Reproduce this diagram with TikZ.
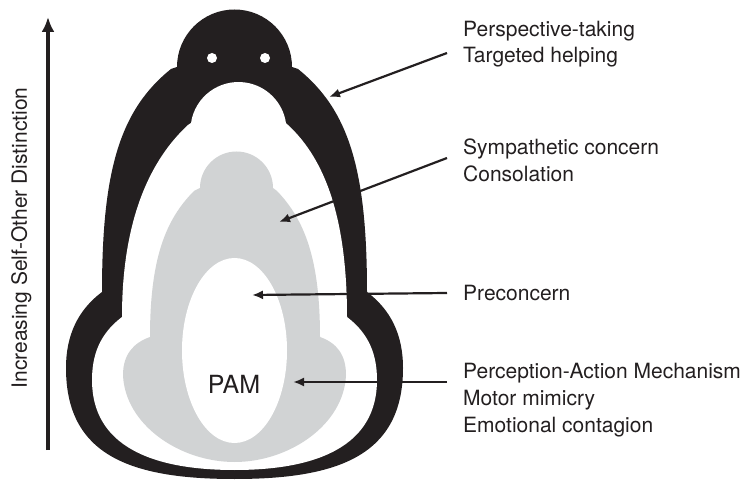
\documentclass[tikz,border=0pt]{standalone}
\usepackage{fontspec}
\setmainfont{TeX Gyre Heros}
\usetikzlibrary{arrows.meta}
\definecolor{inkblack}{HTML}{231F20}
\definecolor{pamgray}{HTML}{D1D3D4}
\tikzset{font=\fontsize{21}{27}\selectfont}

\begin{document}
\begin{tikzpicture}[x=1pt,y=-1pt,
    txt/.style={anchor=base west,inner xsep=16pt,inner ysep=0pt,text=inkblack},
    pointer/.style={draw=inkblack,line width=2.2pt,-{Latex[length=11pt,width=9pt]}}]
  \useasboundingbox (0,0) rectangle (745,481);

  % outer (black) layer with head
  \fill[inkblack] (177,67) arc (180:360:57.5) -- (298,69)
    .. controls (349,110) and (367,170) .. (367,292)
    .. controls (391,310) and (403,335) .. (403,368)
    .. controls (403,455) and (339,479) .. (234.5,479)
    .. controls (130,479) and (66,455) .. (66,368)
    .. controls (66,335) and (78,310) .. (102,292)
    .. controls (102,170) and (120,110) .. (171,69) -- cycle;
  \fill[white] (191,123) arc (188.4:351.6:48) -- (288,125)
    .. controls (326,160) and (347,220) .. (347,317)
    .. controls (364,330) and (377,348) .. (377,380)
    .. controls (377,445) and (319,470) .. (234.5,470)
    .. controls (150,470) and (92,445) .. (92,380)
    .. controls (92,348) and (105,330) .. (122,317)
    .. controls (122,220) and (150,160) .. (188,125) -- cycle;
  \fill[white] (212,58) circle (5pt) (265,58) circle (5pt);

  % middle (gray) layer
  \fill[pamgray] (200,188) arc (180:360:36.5) -- (277,191)
    .. controls (305,220) and (320,260) .. (320,337)
    .. controls (337,343) and (346,355) .. (346,375)
    .. controls (344,425) and (289,462) .. (234.5,462)
    .. controls (180,462) and (125,425) .. (123,375)
    .. controls (123,355) and (133,343) .. (150,337)
    .. controls (150,260) and (165,220) .. (194,191) -- cycle;

  % core
  \fill[white] (234.5,350.5) ellipse [x radius=52.5pt,y radius=92.5pt];
  \node[font=\fontsize{25}{30}\selectfont,anchor=base,text=inkblack] (pam) at (234,393) {PAM};

  \node[txt] (persp) at (447,37) {Perspective-taking};
  \node[txt] (targ) at (447,63) {Targeted helping};
  \node[txt] (symp) at (447,155) {Sympathetic concern};
  \node[txt] (consol) at (447,182) {Consolation};
  \node[txt] (precon) at (447,301) {Preconcern};
  \node[txt] (mech) at (447,378) {Perception-Action Mechanism};
  \node[txt] (motor) at (447,405) {Motor mimicry};
  \node[txt] (emo) at (447,432) {Emotional contagion};

  \coordinate (outerpt) at (329,97);
  \coordinate (graypt) at (279,222);
  \coordinate (innerpt) at (252,295);
  \coordinate (pampt) at (293,382);
  \draw[pointer] ([yshift=10pt]targ.base west) -- (outerpt);
  \draw[pointer] ([yshift=-3pt]symp.base west) -- (graypt);
  \draw[pointer] ([yshift=8pt]precon.base west) -- (innerpt);
  \draw[pointer] ([yshift=-4pt]mech.base west) -- (pampt);

  % axis
  \coordinate (axisbot) at (48,450);
  \coordinate (axistop) at (48,17);
  \draw[inkblack,line width=4pt,-{Latex[length=15pt,width=13pt]}] (axisbot) -- (axistop);
  \node[rotate=90,anchor=base,text=inkblack] (axislbl) at (27,238) {Increasing Self-Other Distinction};
\end{tikzpicture}
\end{document}
